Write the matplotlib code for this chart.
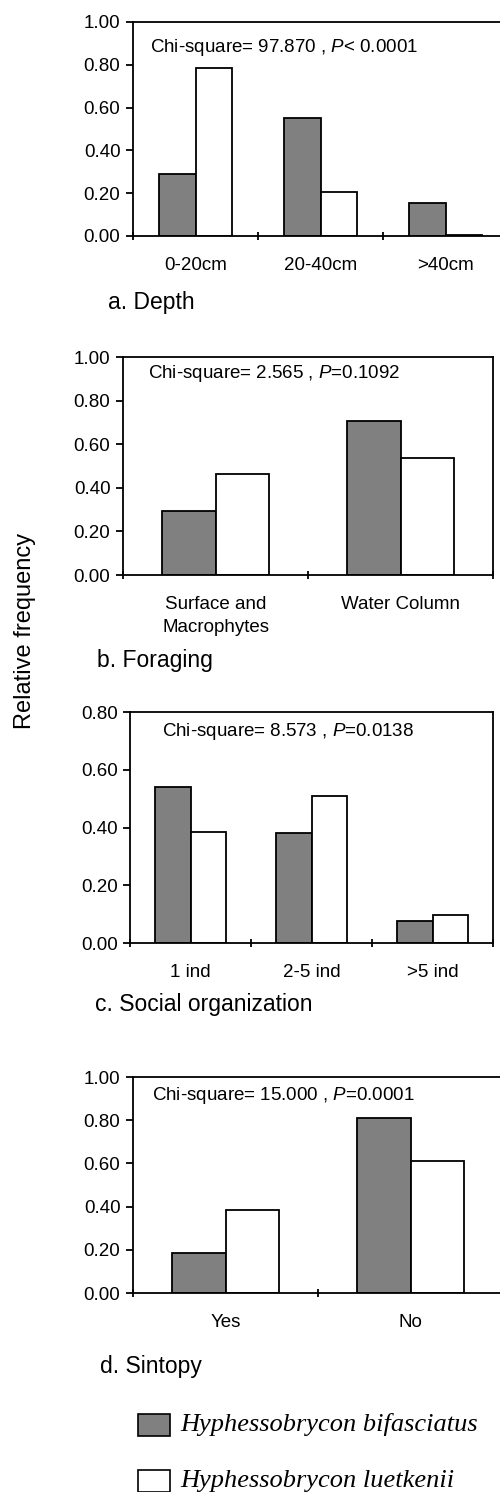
import numpy as np
import matplotlib
matplotlib.use('Agg')
import matplotlib.pyplot as plt
from matplotlib.patches import Rectangle

plt.rcParams['font.family'] = 'Liberation Sans'
plt.rcParams['mathtext.fontset'] = 'custom'
plt.rcParams['mathtext.it'] = 'Liberation Sans:italic'
plt.rcParams['mathtext.rm'] = 'Liberation Sans'

# data
depth_cats = ['0-20cm', '20-40cm', '>40cm']
depth_bif = [0.29, 0.553, 0.156]
depth_lue = [0.785, 0.207, 0.005]

forag_cats = ['Surface and\nMacrophytes', 'Water Column']
forag_bif = [0.295, 0.706]
forag_lue = [0.463, 0.538]

social_cats = ['1 ind', '2-5 ind', '>5 ind']
social_bif = [0.541, 0.380, 0.075]
social_lue = [0.386, 0.509, 0.098]

sint_cats = ['Yes', 'No']
sint_bif = [0.185, 0.808]
sint_lue = [0.384, 0.612]

chi_texts = ['Chi-square= 97.870 , $\\it{P}$< 0.0001',
             'Chi-square= 2.565 , $\\it{P}$=0.1092',
             'Chi-square= 8.573 , $\\it{P}$=0.0138',
             'Chi-square= 15.000 , $\\it{P}$=0.0001']
panel_titles = ['a. Depth', 'b. Foraging', 'c. Social organization', 'd. Sintopy']
species = ['Hyphessobrycon bifasciatus', 'Hyphessobrycon luetkenii']

W, H = 500, 1492
fig = plt.figure(figsize=(W/100, H/100), dpi=100)

def px(x, y):
    return x/W, 1 - y/H

# left, right, top, bottom in pixels
boxes = [(133, 508, 22, 236), (123, 493, 357, 575), (130, 493, 712, 943), (133, 503, 1077, 1293)]
ymaxes = [1.0, 1.0, 0.8, 1.0]
datasets = [(depth_cats, depth_bif, depth_lue), (forag_cats, forag_bif, forag_lue),
            (social_cats, social_bif, social_lue), (sint_cats, sint_bif, sint_lue)]
chi_pos = [(150, 47), (148, 373), (162, 732), (152, 1095)]
title_pos = [(108, 303), (97, 660), (95, 1005), (100, 1367)]
bw = 0.29

for i in range(4):
    l, r, t, b = boxes[i]
    ax = fig.add_axes([l/W, 1 - b/H, (r-l)/W, (b-t)/H])
    cats, bif, lue = datasets[i]
    x = np.arange(len(cats)) + 0.5
    ax.bar(x - bw/2, bif, bw, color='#808080', edgecolor='black', linewidth=1.3)
    ax.bar(x + bw/2, lue, bw, color='white', edgecolor='black', linewidth=1.3)
    ax.set_xlim(0, len(cats))
    ax.set_ylim(0, ymaxes[i])
    ax.set_yticks(np.arange(0, ymaxes[i] + 0.01, 0.2))
    ax.set_yticklabels(['%.2f' % v for v in np.arange(0, ymaxes[i] + 0.01, 0.2)])
    ax.set_xticks(np.arange(len(cats) + 1))
    ax.set_xticklabels([])
    ax.set_xticks(x, minor=True)
    ax.set_xticklabels(cats, minor=True, fontsize=13.5, linespacing=1.5)
    ax.tick_params(axis='x', which='minor', length=0, pad=15)
    ax.tick_params(axis='x', which='major', length=6, width=1.3, direction='inout')
    ax.tick_params(axis='y', length=5, width=1.3, labelsize=13.5, pad=4)
    for s in ax.spines.values():
        s.set_linewidth(1.3)
    fx, fy = px(*chi_pos[i])
    fig.text(fx, fy, chi_texts[i], fontsize=13.5, va='center', ha='left')
    fx, fy = px(*title_pos[i])
    fig.text(fx, fy, panel_titles[i], fontsize=16.5, va='center', ha='left')

fx, fy = px(25, 631)
fig.text(fx, fy, 'Relative frequency', rotation=90, fontsize=17, va='center', ha='center')

# legend
leg_y = [1425, 1481]
leg_col = ['#808080', 'white']
for j in range(2):
    x0, y0 = px(138, leg_y[j] + 11)
    fig.patches.append(Rectangle((x0, y0), 32/W, 22/H, transform=fig.transFigure,
                                 facecolor=leg_col[j], edgecolor='black', linewidth=1.2))
    fx, fy = px(180, leg_y[j])
    fig.text(fx, fy, species[j], fontsize=19, style='italic', family='Liberation Serif',
             va='center', ha='left')

fig.savefig('out.png', dpi=100)
